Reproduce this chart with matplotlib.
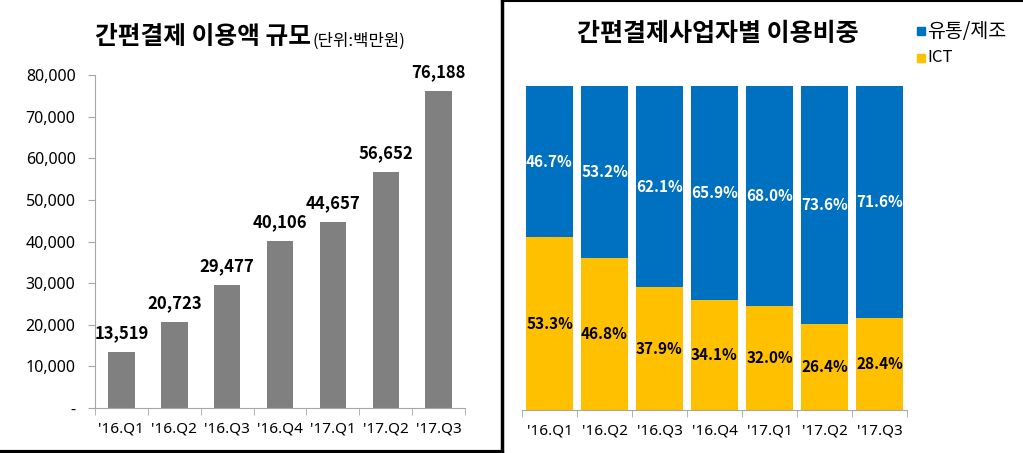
import matplotlib.pyplot as plt
from matplotlib.lines import Line2D
from matplotlib.patches import Rectangle

plt.rcParams['font.family'] = ['Noto Sans', 'Noto Sans CJK KR', 'DejaVu Sans']

quarters = ["'16.Q1", "'16.Q2", "'16.Q3", "'16.Q4", "'17.Q1", "'17.Q2", "'17.Q3"]
amount = [13519, 20723, 29477, 40106, 44657, 56652, 76188]
share_dist = [46.7, 53.2, 62.1, 65.9, 68.0, 73.6, 71.6]   # 유통/제조
share_ict = [53.3, 46.8, 37.9, 34.1, 32.0, 26.4, 28.4]    # ICT
yticks_left = [0, 10000, 20000, 30000, 40000, 50000, 60000, 70000, 80000]

W, H = 1023, 453
fig = plt.figure(figsize=(W / 100, H / 100), dpi=100)

grey_axis = '#a6a6a6'
blue = '#0070C0'
yellow = '#FFC000'
kr = ['Noto Sans CJK KR', 'DejaVu Sans']
x = list(range(len(quarters)))

# ---- left panel: 이용액 규모
ax1 = fig.add_axes([95 / W, (H - 408) / H, 370 / W, 333 / H])
ax1.bar(x, amount, width=0.5, color='#808080')
for xi, v in zip(x, amount):
    ax1.annotate(f'{v:,}', (xi, v), xytext=(0, 7), textcoords='offset points',
                 ha='center', va='bottom', fontsize=12, fontweight='bold', family=kr)
ax1.set_xlim(-0.5, 6.5)
ax1.set_ylim(0, 80000)
ax1.set_yticks(yticks_left)
ax1.set_yticklabels(['-' if t == 0 else f'{t:,}' for t in yticks_left], fontsize=11.5)
ax1.set_xticks(x)
ax1.set_xticklabels(quarters, fontsize=11)
ax1.set_xticks([i - 0.5 for i in range(8)], minor=True)
ax1.tick_params(axis='x', which='major', length=0, pad=10)
ax1.tick_params(axis='x', which='minor', length=5, color=grey_axis, direction='out')
ax1.tick_params(axis='y', length=5, color=grey_axis, pad=9)
for s in ['top', 'right']:
    ax1.spines[s].set_visible(False)
for s in ['left', 'bottom']:
    ax1.spines[s].set_color(grey_axis)

fig.text(95 / W, 1 - 37 / H, '간편결제 이용액 규모', fontsize=17.8, fontweight='bold',
         ha='left', va='center', family=kr)
fig.text(313 / W, 1 - 41 / H, '(단위:백만원)', fontsize=12, ha='left', va='center', family=kr)

# ---- right panel: 사업자별 이용비중
ax2 = fig.add_axes([522 / W, (H - 410) / H, 385 / W, 324 / H])
ax2.bar(x, share_ict, width=0.85, color=yellow, label='ICT')
ax2.bar(x, share_dist, width=0.85, bottom=share_ict, color=blue, label='유통/제조')
for xi, a, b in zip(x, share_ict, share_dist):
    ax2.text(xi, a / 2, f'{a:.1f}%', ha='center', va='center', fontsize=11,
             fontweight='bold', color='black', family=kr)
    ax2.text(xi, a + b / 2, f'{b:.1f}%', ha='center', va='center', fontsize=11,
             fontweight='bold', color='white', family=kr)
ax2.set_xlim(-0.5, 6.5)
ax2.set_ylim(0, 100)
ax2.set_yticks([])
ax2.set_xticks(x)
ax2.set_xticklabels(quarters, fontsize=11)
ax2.set_xticks([i - 0.5 for i in range(8)], minor=True)
ax2.tick_params(axis='x', which='major', length=0, pad=10)
ax2.tick_params(axis='x', which='minor', length=5, color=grey_axis, direction='out')
for s in ['top', 'right', 'left']:
    ax2.spines[s].set_visible(False)
ax2.spines['bottom'].set_color(grey_axis)

fig.text(718 / W, 1 - 34 / H, '간편결제사업자별 이용비중', fontsize=18, fontweight='bold',
         ha='center', va='center', family=kr)

# legend drawn by hand in figure pixels
for (lab, col, yc, fs) in [('유통/제조', blue, 31, 14), ('ICT', yellow, 58, 12)]:
    fig.add_artist(Rectangle((917 / W, 1 - (yc + 4) / H), 8 / W, 8 / H,
                             transform=fig.transFigure, color=col))
    fig.text(927 / W, 1 - yc / H, lab, fontsize=fs, ha='left', va='center', family=kr)

# panel frames
fig.add_artist(Line2D([501.5 / W, 501.5 / W], [0, 1], color='black', lw=2.5))
fig.add_artist(Line2D([0, 501.5 / W], [1.5 / H, 1.5 / H], color='black', lw=3))
fig.add_artist(Line2D([501.5 / W, 1], [1 - 1 / H, 1 - 1 / H], color='black', lw=1.5))

fig.savefig('out.png', dpi=100)
